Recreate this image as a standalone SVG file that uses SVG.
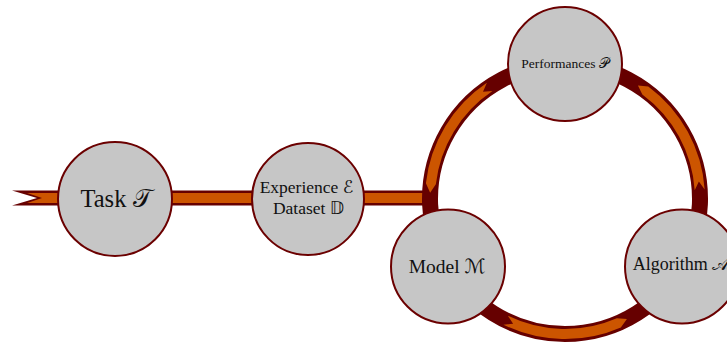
<svg xmlns="http://www.w3.org/2000/svg" width="727" height="345" viewBox="0 0 727 345">
<style>
.dark{fill:none;stroke:#660000;stroke-width:16}
.orange{fill:#cc5500;stroke:none}
.node circle{fill:#c6c6c6;stroke:#6b0000;stroke-width:2}
.node text{font-family:"Liberation Serif","DejaVu Serif",serif;fill:#111;text-anchor:middle}
.m{font-family:"DejaVu Sans","Noto Sans",serif}
</style>
<rect width="727" height="345" fill="#fff"/>
<g id="connectors">
  <g id="input-line">
    <polygon points="12,190.5 430,190.5 430,205.5 12,205.5 37,198" fill="#660000"/>
    <polygon class="orange" points="27,193 430,193 430,203 27,203 42,198"/>
  </g>
  <g id="perf-to-model">
    <path class="dark" d="M565 64 A135 135 0 0 0 448.09 266.5"/>
    <path class="orange" d="M486.88 82.82 A140 140 0 0 0 425.90 183.15 L430.15 192.64 L435.84 184.28 A130 130 0 0 1 492.46 91.12 L483.00 91.75 Z"/>
  </g>
  <g id="algo-to-perf">
    <path class="dark" d="M681.91 266.5 A135 135 0 0 0 565 64"/>
    <path class="orange" d="M704.68 189.48 A140 140 0 0 0 648.27 86.46 L637.93 85.40 L642.33 94.50 A130 130 0 0 1 694.70 190.16 L698.88 181.61 Z"/>
  </g>
  <g id="model-to-algo">
    <path class="dark" d="M448.09 266.5 A135 135 0 0 0 681.91 266.5"/>
    <path class="orange" d="M503.41 324.72 A140 140 0 0 0 620.83 327.39 L626.92 318.96 L616.84 318.22 A130 130 0 0 1 507.81 315.74 L513.12 323.63 Z"/>
  </g>
</g>
<g id="task" class="node">
  <circle cx="115" cy="199" r="57"/>
  <text x="116" y="207" font-size="24.5">Task <tspan class="m">𝒯</tspan></text>
</g>
<g id="experience" class="node">
  <circle cx="308" cy="199" r="56"/>
  <text x="306.5" y="193" font-size="17.5">Experience <tspan class="m">ℰ</tspan></text>
  <text x="308.5" y="214" font-size="17.5">Dataset <tspan class="m">𝔻</tspan></text>
</g>
<g id="performances" class="node">
  <circle cx="565" cy="64" r="57"/>
  <text x="565" y="68" font-size="13.5">Performances <tspan class="m">𝒫</tspan></text>
</g>
<g id="model" class="node">
  <circle cx="448" cy="266.5" r="57"/>
  <text x="447" y="272.5" font-size="19.5">Model <tspan class="m">ℳ</tspan></text>
</g>
<g id="algorithm" class="node">
  <circle cx="682" cy="266.5" r="57"/>
  <text x="681" y="269.5" font-size="18">Algorithm <tspan class="m">𝒜</tspan></text>
</g>
</svg>
